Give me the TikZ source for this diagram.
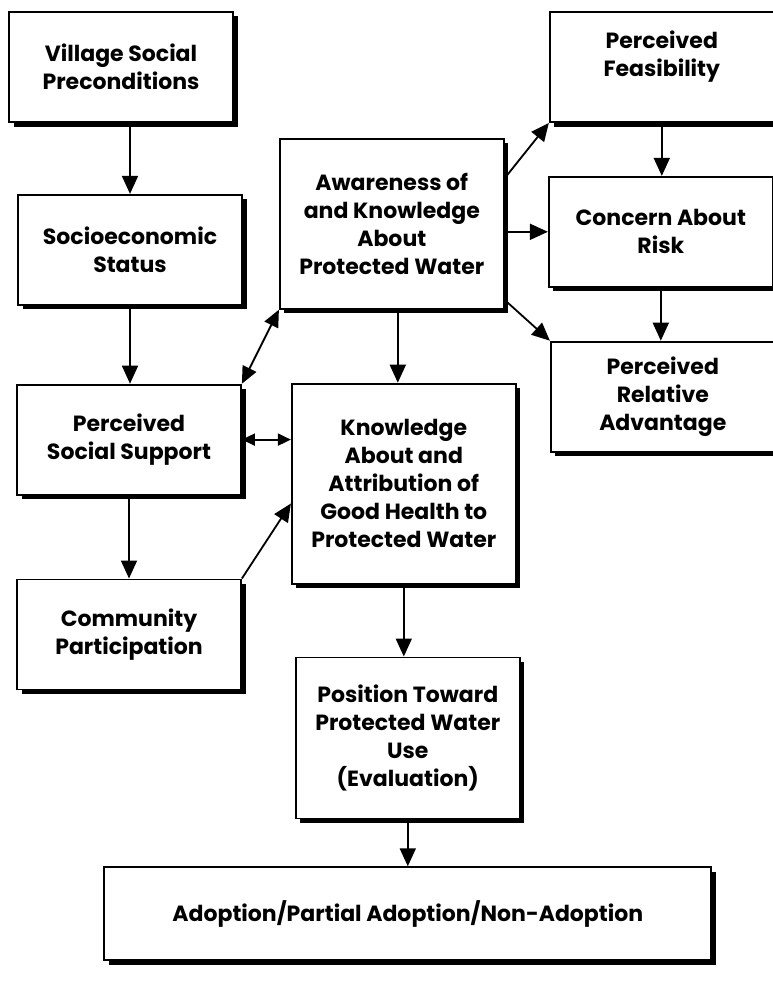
\documentclass[tikz,border=0pt]{standalone}
\usepackage{fontspec}
\setmainfont{Poppins}
\usepackage{tikz}
\usetikzlibrary{arrows.meta,positioning,shadows,calc}
\tikzset{
  box/.style={draw=black,line width=1.8pt,fill=white,
    minimum width=224pt,minimum height=110pt,align=center,
    font=\fontsize{22}{28}\selectfont\bfseries,
    drop shadow={shadow xshift=4.5pt,shadow yshift=-4.5pt,fill=black,opacity=1}},
  flowarrow/.style={-{Triangle[length=18pt,width=16pt]},line width=1.8pt,draw=black},
  twoway/.style={{Triangle[length=17pt,width=15pt]}-{Triangle[length=17pt,width=15pt]},line width=1.8pt,draw=black},
  shortway/.style={{Triangle[length=13pt,width=12pt]}-{Triangle[length=13pt,width=12pt]},line width=1.8pt,draw=black}
}

\begin{document}
\begin{tikzpicture}[node distance=70pt and 40pt]
\useasboundingbox (0,0) rectangle (772pt,-982pt);
% left column
\node[box] (village) at (121pt,-67pt) {Village Social\\Preconditions};
\node[box,below=71pt of village,xshift=9pt] (socio) {Socioeconomic\\Status};
\node[box,below=78pt of socio,xshift=-1pt] (social) {Perceived\\Social Support};
\node[box,below=83pt of social] (community) {Community\\Participation};
% middle column
\node[box,minimum height=170pt,anchor=north west] (aware) at ($(village.south east)+(45pt,-15pt)$) {Awareness of\\and Knowledge\\About\\Protected Water};
\node[box,minimum height=200pt,below=73pt of aware,xshift=12pt] (knowledge) {Knowledge\\About and\\Attribution of\\Good Health to\\Protected Water};
\node[box,minimum height=161pt,below=72pt of knowledge,xshift=4pt] (position) {Position Toward\\Protected Water\\Use\\(Evaluation)};
\node[box,minimum width=607pt,minimum height=93pt,below=47pt of position] (adoption) {Adoption/Partial Adoption/Non-Adoption};
% right column
\node[box,right=315pt of village] (feas) {Perceived\\Feasibility\\[-10pt]\strut};
\node[box,below=53pt of feas,xshift=-1pt] (concern) {Concern About\\Risk};
\node[box,below=53pt of concern,xshift=2pt] (reladv) {Perceived\\Relative\\Advantage};
% arrows
\draw[flowarrow] (village.south -| socio.north) -- (socio.north);
\draw[flowarrow] (socio.south) -- (socio.south |- social.north);
\draw[flowarrow] (social.south) -- (social.south |- community.north);
\draw[twoway] (social.north east) -- (aware.south west);
\draw[shortway] (social.east) -- (social.east -| knowledge.west);
\draw[flowarrow] (community.north east) -- (knowledge.190);
\draw[flowarrow] ([xshift=6pt]aware.south) -- ([xshift=6pt]aware.south |- knowledge.north);
\draw[flowarrow] (knowledge.south) -- (knowledge.south |- position.north);
\draw[flowarrow] (position.south) -- (position.south |- adoption.north);
\draw[flowarrow] (aware.22) -- (feas.south west);
\draw[flowarrow] (aware.east |- concern.west) -- (concern.west);
\draw[flowarrow] (aware.-34) -- (reladv.north west);
\draw[flowarrow] (feas.south) -- (feas.south |- concern.north);
\draw[flowarrow] (concern.south) -- (concern.south |- reladv.north);
\end{tikzpicture}
\end{document}
